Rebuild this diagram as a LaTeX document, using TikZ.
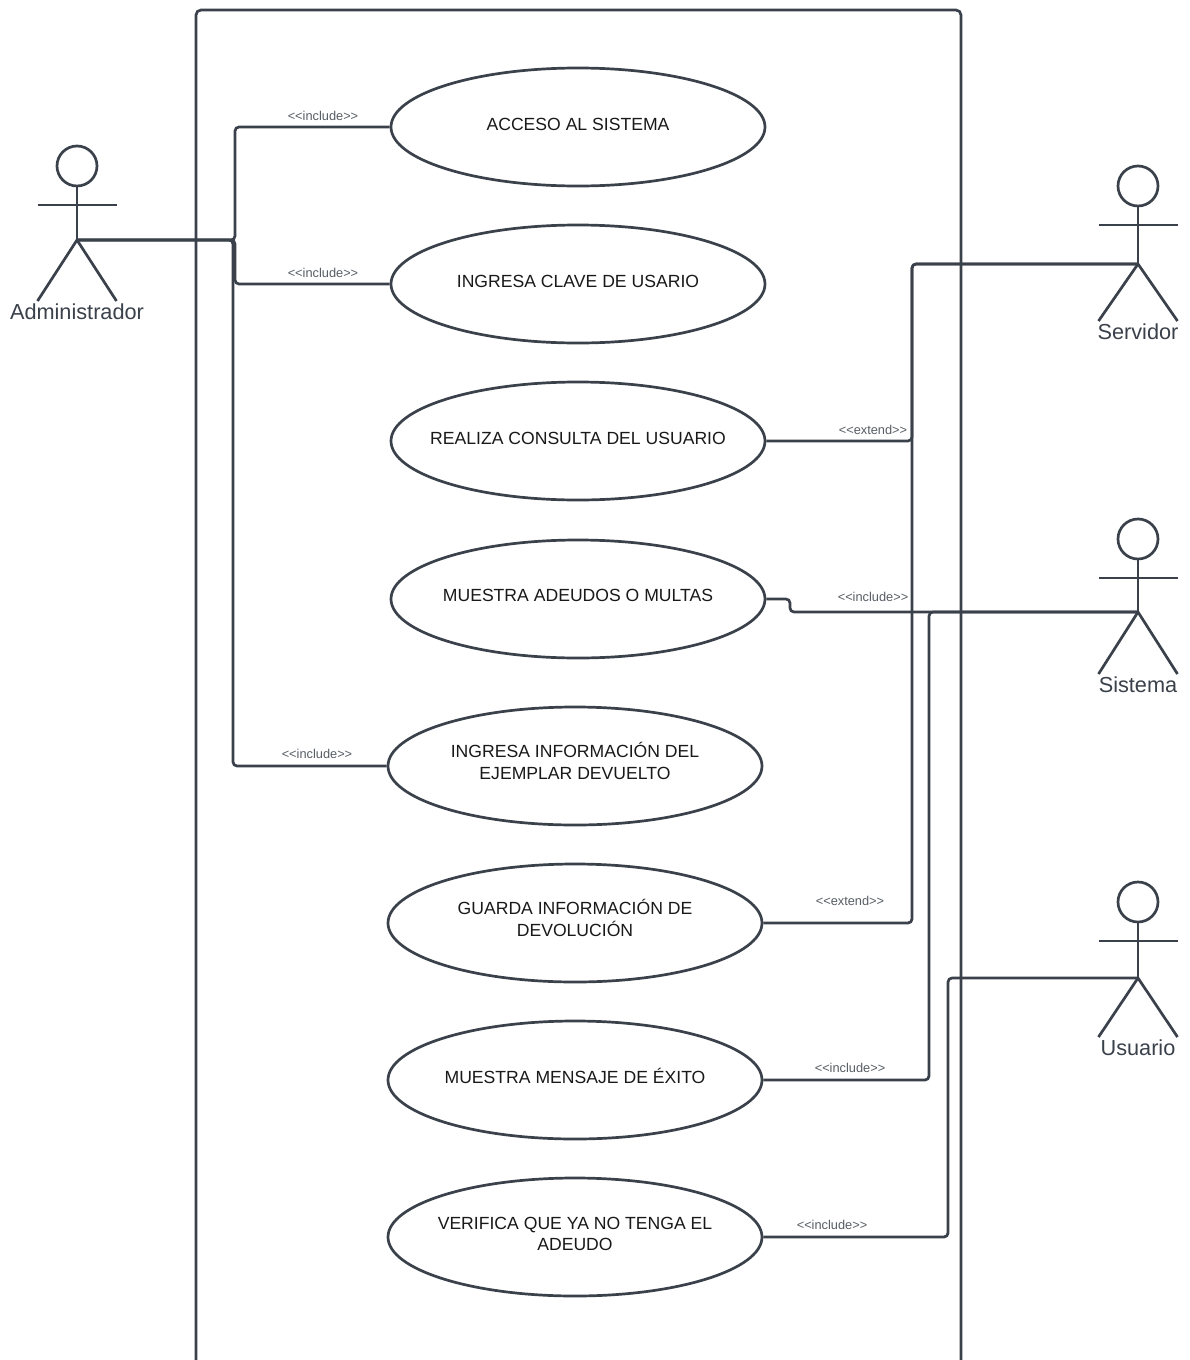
\documentclass[tikz,border=0pt]{standalone}
\usepackage{fontspec}
\setmainfont{Liberation Sans}
\usetikzlibrary{shapes.geometric}
\definecolor{ln}{HTML}{3A414A}
\tikzset{
  uc/.style={draw=ln,line width=2.7pt,ellipse,minimum width=374pt,minimum height=118pt,inner sep=-60pt,align=center,font=\fontsize{17.6}{21.5}\selectfont,text=black!90},
  stereo/.style={font=\fontsize{12.8}{14}\selectfont,text=ln!85,inner sep=0pt},
  actname/.style={font=\fontsize{21.7}{25}\selectfont,text=ln,inner sep=0pt},
  limb/.style={draw=ln,line width=2.7pt},
  wire/.style={draw=ln,line width=2.7pt,rounded corners=4pt},
  head/.style={draw=ln,line width=2.7pt,circle,minimum size=40pt,inner sep=0pt}
}
\newcommand{\actorfig}[5]{% name, x, head y, hip y, label
  \node[head] (#1head) at (#2,#3) {};
  \coordinate (#1hip) at (#2,#4);
  \coordinate (#1al) at (#2-39.5,#3+39);
  \coordinate (#1ar) at (#2+39.5,#3+39);
  \coordinate (#1ll) at (#2-39.5,#3+135);
  \coordinate (#1lr) at (#2+39.5,#3+135);
  \draw[limb] (#1head) -- (#1hip);
  \draw[limb] (#1al) -- (#1ar);
  \draw[limb] (#1ll) -- (#1hip) -- (#1lr);
  \node[actname] (#1label) at (#2,#3+146) {#5};
}
\begin{document}
\begin{tikzpicture}[x=1pt,y=-1pt]
\useasboundingbox (0,0) rectangle (1189,1360);
\fill[white] (0,0) rectangle (1189,1360);
\draw[ln,line width=2.7pt,rounded corners=5pt] (196,1375) -- (196,10) -- (961,10) -- (961,1375);
\node[uc] (e1) at (578,127) {ACCESO AL SISTEMA\\[-17pt]};
\node[uc] (e2) at (578,284) {INGRESA CLAVE DE USARIO\\[-17pt]};
\node[uc] (e3) at (578,441) {REALIZA CONSULTA DEL USUARIO\\[-17pt]};
\node[uc] (e4) at (578,599) {MUESTRA ADEUDOS O MULTAS\\[-15pt]};
\node[uc] (e5) at (575,766) {INGRESA INFORMACIÓN DEL\\EJEMPLAR DEVUELTO\\[-11pt]};
\node[uc] (e6) at (575,923) {GUARDA INFORMACIÓN DE\\DEVOLUCIÓN\\[-11pt]};
\node[uc] (e7) at (575,1080) {MUESTRA MENSAJE DE ÉXITO\\[-13pt]};
\node[uc] (e8) at (575,1237) {VERIFICA QUE YA NO TENGA EL\\ADEUDO\\[-15pt]};
\actorfig{adm}{77}{166}{240}{Administrador}
\actorfig{srv}{1138}{186}{264}{Servidor}
\actorfig{sis}{1138}{539}{612}{Sistema}
\actorfig{usu}{1138}{902}{978}{Usuario}
\coordinate (admA) at (235,240);
\coordinate (srvA) at (912,264);
\coordinate (sisA) at (929,612);
\draw[wire] (admhip) -- (admA) |- (e1.west);
\draw[wire] (admhip) -- (admA) |- (e2.west);
\draw[wire] (admhip) -- (233,240) |- (e5.west);
\draw[wire] (srvhip) -- (srvA) |- (e3.east);
\draw[wire] (srvhip) -- (srvA) |- (e6.east);
\draw[wire] (e4.east) -- (790,599) -- (790,612) -- (siship);
\draw[wire] (siship) -- (sisA) |- (e7.east);
\draw[wire] (usuhip) -- (948,978) |- (e8.east);
\node[stereo] (l1) at (323,116) {<{}<include>{}>};
\node[stereo] (l2) at (323,273) {<{}<include>{}>};
\node[stereo] (l3) at (317,754) {<{}<include>{}>};
\node[stereo] (l4) at (873,430) {<{}<extend>{}>};
\node[stereo] (l5) at (873,597) {<{}<include>{}>};
\node[stereo] (l6) at (850,901) {<{}<extend>{}>};
\node[stereo] (l7) at (850,1068) {<{}<include>{}>};
\node[stereo] (l8) at (832,1225) {<{}<include>{}>};
\end{tikzpicture}
\end{document}
